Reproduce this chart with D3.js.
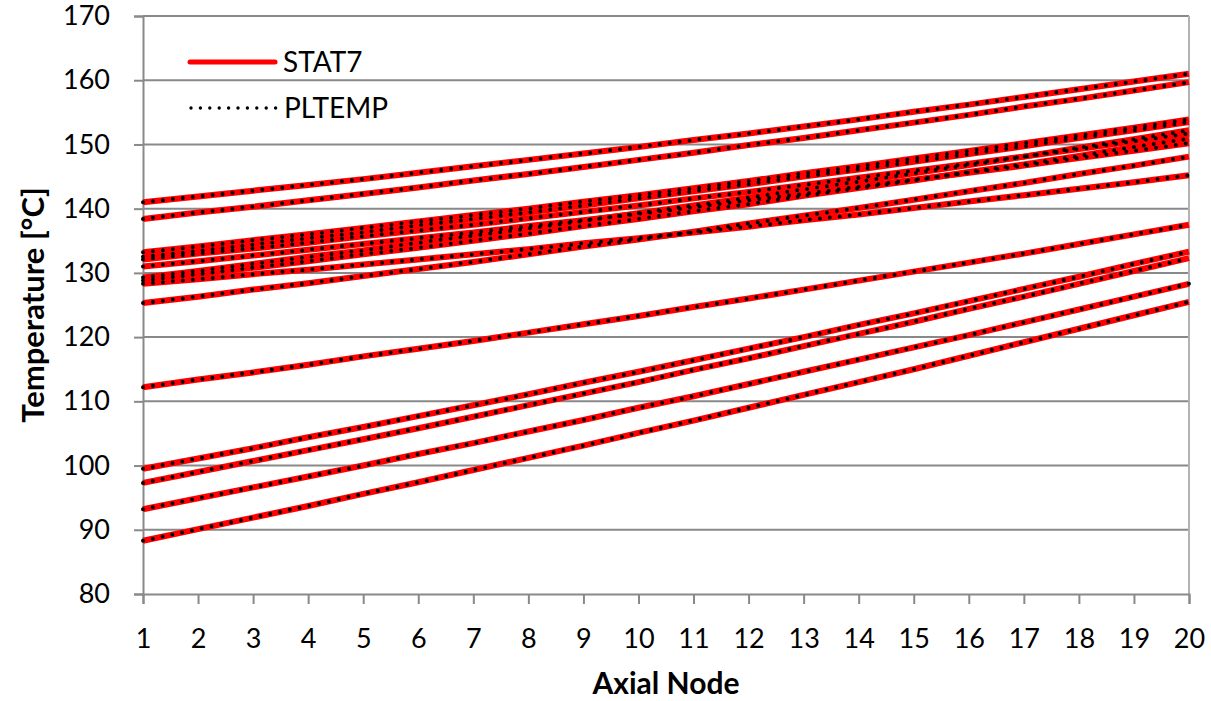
<!DOCTYPE html>
<html>
<head>
<meta charset="utf-8">
<script src="https://cdn.jsdelivr.net/npm/d3@7"></script>
<style>
  body { margin: 0; background: #fff; }
  svg { display: block; font-family: Lato, "Open Sans", sans-serif; }
</style>
</head>
<body>
<script>
const nodes = [1, 2, 3, 4, 5, 6, 7, 8, 9, 10, 11, 12, 13, 14, 15, 16, 17, 18, 19, 20];
const yTicks = [80, 90, 100, 110, 120, 130, 140, 150, 160, 170];

// temperature per channel
const channel1 = [141.0, 141.9, 142.8, 143.7, 144.6, 145.6, 146.6, 147.6, 148.6, 149.6, 150.7, 151.7, 152.8, 153.9, 155.1, 156.2, 157.4, 158.6, 159.8, 161.0];
const channel2 = [138.4, 139.4, 140.3, 141.3, 142.3, 143.3, 144.4, 145.4, 146.5, 147.6, 148.7, 149.9, 151.0, 152.2, 153.4, 154.6, 155.9, 157.1, 158.4, 159.7];
const channel3 = [133.2, 134.1, 135.1, 136.0, 137.0, 138.0, 139.0, 140.0, 141.1, 142.1, 143.2, 144.3, 145.5, 146.6, 147.8, 149.0, 150.2, 151.4, 152.6, 153.9];
const channel4 = [132.5, 133.4, 134.4, 135.4, 136.3, 137.4, 138.4, 139.4, 140.5, 141.6, 142.7, 143.8, 145.0, 146.1, 147.3, 148.5, 149.7, 151.0, 152.2, 153.5];
const channel5 = [132.1, 133.0, 133.8, 134.7, 135.7, 136.6, 137.5, 138.5, 139.5, 140.5, 141.6, 142.6, 143.7, 144.8, 145.9, 147.0, 148.1, 149.3, 150.5, 151.7];
const channel6 = [131.0, 131.8, 132.7, 133.6, 134.5, 135.4, 136.3, 137.3, 138.2, 139.2, 140.2, 141.3, 142.3, 143.4, 144.5, 145.6, 146.7, 147.9, 149.0, 150.2];
const channel7 = [129.3, 130.3, 131.4, 132.5, 133.5, 134.7, 135.8, 136.9, 138.1, 139.3, 140.5, 141.7, 143.0, 144.2, 145.5, 146.8, 148.1, 149.5, 150.8, 152.2];
const channel8 = [128.8, 129.8, 130.8, 131.8, 132.9, 133.9, 135.0, 136.1, 137.3, 138.4, 139.6, 140.7, 142.0, 143.2, 144.4, 145.7, 146.9, 148.2, 149.6, 150.9];
const channel9 = [128.3, 129.0, 129.8, 130.5, 131.3, 132.1, 132.9, 133.7, 134.6, 135.4, 136.3, 137.2, 138.2, 139.1, 140.1, 141.1, 142.1, 143.1, 144.1, 145.2];
const channel10 = [125.3, 126.3, 127.4, 128.4, 129.5, 130.6, 131.7, 132.9, 134.1, 135.2, 136.4, 137.7, 138.9, 140.1, 141.4, 142.7, 144.0, 145.4, 146.7, 148.1];
const channel11 = [112.2, 113.4, 114.5, 115.7, 117.0, 118.2, 119.4, 120.7, 122.0, 123.3, 124.7, 126.0, 127.4, 128.8, 130.2, 131.6, 133.0, 134.5, 136.0, 137.5];
const channel12 = [99.5, 101.1, 102.7, 104.4, 106.0, 107.7, 109.4, 111.1, 112.9, 114.6, 116.4, 118.2, 120.0, 121.9, 123.7, 125.6, 127.5, 129.4, 131.4, 133.3];
const channel13 = [97.3, 99.0, 100.7, 102.4, 104.1, 105.8, 107.6, 109.4, 111.2, 113.0, 114.9, 116.7, 118.6, 120.5, 122.4, 124.4, 126.3, 128.3, 130.3, 132.3];
const channel14 = [93.2, 94.9, 96.6, 98.3, 100.0, 101.8, 103.5, 105.3, 107.1, 109.0, 110.8, 112.7, 114.6, 116.5, 118.4, 120.3, 122.3, 124.3, 126.3, 128.3];
const channel15 = [88.3, 90.1, 91.9, 93.7, 95.6, 97.4, 99.3, 101.2, 103.1, 105.1, 107.0, 109.0, 111.0, 113.0, 115.0, 117.1, 119.2, 121.3, 123.4, 125.5];

const stat7Series = [channel1, channel2, channel3, channel4, channel5, channel6, channel7, channel8,
  channel9, channel10, channel11, channel12, channel13, channel14, channel15];
// PLTEMP sits on top of STAT7 everywhere, no visible difference at this scale
const pltempSeries = stat7Series;

const W = 1211, H = 701;
const plot = { left: 143, right: 1189, top: 16, bottom: 594 };
const gridColor = "#898989";

const svg = d3.select("body").append("svg").attr("width", W).attr("height", H);

const x = d3.scaleLinear().domain([1, 20]).range([plot.left, plot.right]);
const y = d3.scaleLinear().domain([80, 170]).range([plot.bottom, plot.top]);

// horizontal gridlines
svg.append("g")
  .selectAll("line")
  .data(yTicks.slice(1))
  .join("line")
  .attr("x1", plot.left).attr("x2", plot.right)
  .attr("y1", d => y(d)).attr("y2", d => y(d))
  .attr("stroke", gridColor).attr("stroke-width", 2);

// right border of plot area
svg.append("line")
  .attr("x1", plot.right).attr("x2", plot.right)
  .attr("y1", plot.top).attr("y2", plot.bottom)
  .attr("stroke", "#b3b3b3").attr("stroke-width", 2);

// axes
const yAxis = svg.append("g")
  .attr("transform", `translate(${plot.left},0)`)
  .call(d3.axisLeft(y).tickValues(yTicks).tickSize(9).tickPadding(24));
const xAxis = svg.append("g")
  .attr("transform", `translate(0,${plot.bottom})`)
  .call(d3.axisBottom(x).tickValues(nodes).tickSize(10).tickPadding(25));

[yAxis, xAxis].forEach(g => {
  g.select(".domain").attr("stroke", gridColor).attr("stroke-width", 2);
  g.selectAll(".tick line").attr("stroke", gridColor).attr("stroke-width", 2);
  g.selectAll(".tick text")
    .attr("fill", "#000")
    .style("font-size", "27px")
    .style("font-family", "Lato, sans-serif");
});

const line = d3.line()
  .x((d, i) => x(nodes[i]))
  .y(d => y(d));

// STAT7 red solid
svg.append("g")
  .selectAll("path")
  .data(stat7Series)
  .join("path")
  .attr("d", line)
  .attr("fill", "none")
  .attr("stroke", "#ff0000")
  .attr("stroke-width", 6)
  .attr("stroke-linejoin", "round");

// PLTEMP black dotted
svg.append("g")
  .selectAll("path")
  .data(pltempSeries)
  .join("path")
  .attr("d", line)
  .attr("fill", "none")
  .attr("stroke", "#000")
  .attr("stroke-width", 4)
  .attr("stroke-linecap", "round")
  .attr("stroke-dasharray", "0 10");

// legend
const legend = svg.append("g");
legend.append("line")
  .attr("x1", 190).attr("x2", 275).attr("y1", 62).attr("y2", 62)
  .attr("stroke", "#ff0000").attr("stroke-width", 5).attr("stroke-linecap", "round");
legend.append("line")
  .attr("x1", 191).attr("x2", 276).attr("y1", 108).attr("y2", 108)
  .attr("stroke", "#000").attr("stroke-width", 3.4)
  .attr("stroke-linecap", "round").attr("stroke-dasharray", "0 9.4");
legend.append("text")
  .attr("x", 283).attr("y", 72)
  .style("font-size", "28px")
  .text("STAT7");
legend.append("text")
  .attr("x", 284).attr("y", 118)
  .style("font-size", "28px")
  .text("PLTEMP");

// axis titles
svg.append("text")
  .attr("x", (plot.left + plot.right) / 2).attr("y", 694)
  .attr("text-anchor", "middle")
  .style("font-size", "30px").style("font-weight", "bold")
  .text("Axial Node");

svg.append("text")
  .attr("transform", `translate(44,${(plot.top + plot.bottom) / 2}) rotate(-90)`)
  .attr("text-anchor", "middle")
  .style("font-size", "31px").style("font-weight", "bold")
  .text("Temperature [°C]");
</script>
</body>
</html>
